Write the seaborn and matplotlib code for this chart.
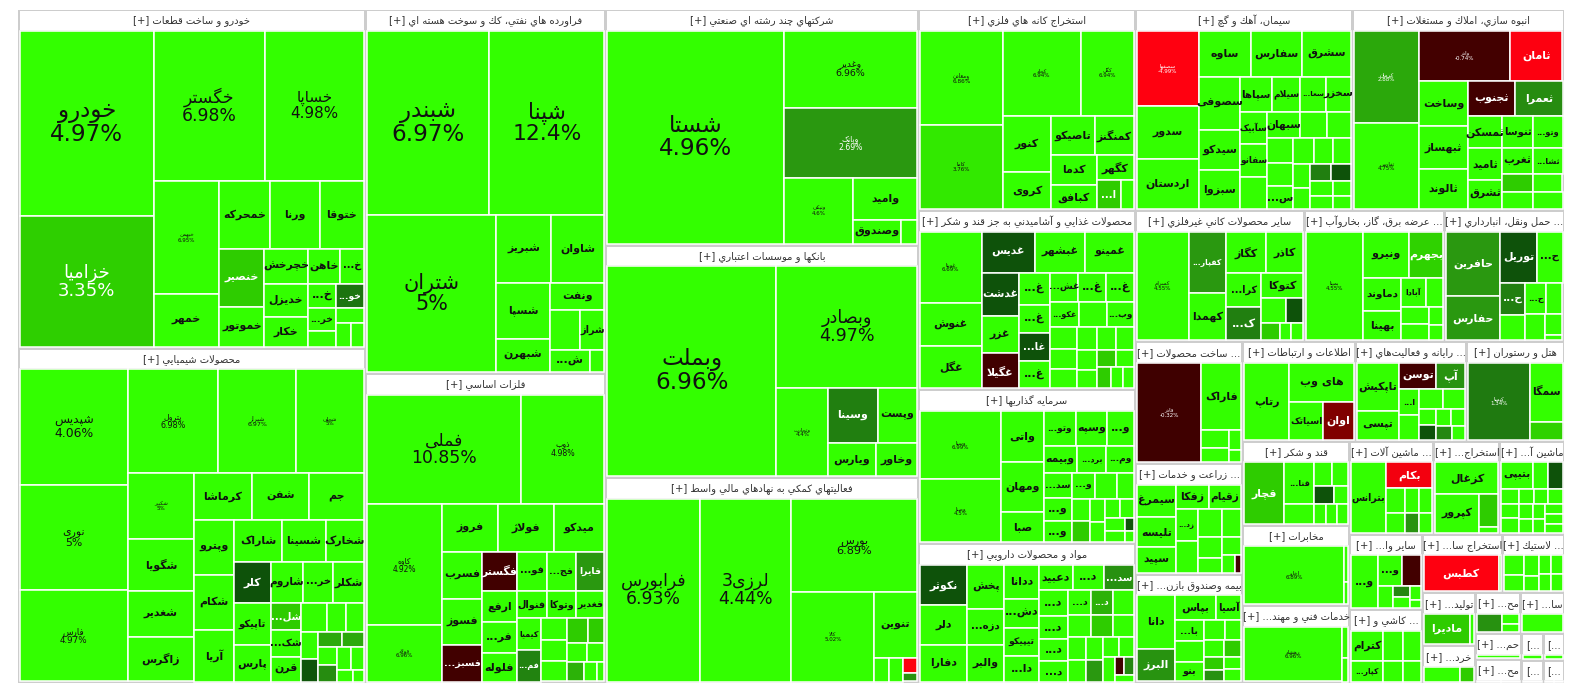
import re
import numpy as np
import seaborn as sns
import matplotlib
matplotlib.use("Agg")
import matplotlib.pyplot as plt
from matplotlib.patches import Rectangle

# ---------------------------------------------------------------------------
# data: (symbol, change %, size) per sector
s01 = [("خودرو", 4.97, 24790), ("خزامیا", 3.35, 17420), ("خگستر", 6.98, 16650), ("خساپا", 4.98, 14850),
       ("خبهمن", 6.95, 7345), ("خمهر", 5, 3430), ("خمحرکه", 5, 3380), ("ورنا", 5, 3350), ("ختوقا", 5, 2948),
       ("خنصیر", 3.3, 2610), ("خموتور", 5, 1800), ("خچرخش", 5, 1505), ("خدیزل", 5, 1419), ("خکار", 5, 1290),
       ("خاهن", 5, 1155), ("خ...", 5, 840), ("خ...", 5, 690), ("خو...", 1.2, 675), ("خر...", 5, 621),
       ("", 5, 450), ("", 5, 405), ("", 5, 375), ("", 5, 300)]
s02 = [("شپدیس", 4.06, 12528), ("نوری", 5, 11340), ("فارس", 4.97, 9828), ("پترول", 6.98, 9300),
       ("شیراز", 6.97, 8100), ("شجلی", 5, 7000), ("شکبیر", 5, 4290), ("شگویا", 5, 3380), ("شغدیر", 5, 2990),
       ("زاگرس", 5, 2925), ("کرماشا", 5, 2668), ("شفن", 5, 2622), ("جم", 5, 2530), ("وپترو", 5, 2200),
       ("شکام", 5, 2200), ("آریا", 5, 2080), ("شاراک", 5, 2016), ("شسینا", 5, 1806), ("شخارک", 5, 1596),
       ("کلر", 0.3, 1517), ("تاپیکو", 5, 1512), ("پارس", 5, 1344), ("شاروم", 5, 1332), ("خر...", 5, 1260),
       ("شکلر", 5, 1260), ("شل...", 3.3, 810), ("شک...", 5, 810), ("قرن", 5, 750), ("", 5, 735), ("", 5, 546),
       ("", 5, 506), ("", 5, 460), ("", 0.4, 391), ("", 2.9, 360), ("", 2.9, 340), ("", 5, 324),
       ("", 2.2, 315), ("", 5, 312), ("", 5, 306), ("", 5, 189), ("", 5, 120)]
s03 = [("شبندر", 6.97, 22143), ("شپنا", 12.4, 20862), ("شتران", 5, 19840), ("شبریز", 5, 3618),
       ("شاوان", 5, 3551), ("شسپا", 5, 2915), ("شبهرن", 5, 1749), ("ونفت", 5, 1458), ("", 5, 1178),
       ("شراز", 5, 920), ("ش...", 5, 874), ("", 5, 322)]
s04 = [("فملی", 10.85, 16568), ("ذوب", 4.98, 9047), ("کاوه", 4.92, 8880), ("فولاد", 6.96, 4144),
       ("فروز", 5, 2632), ("فولاژ", 5, 2585), ("میدکو", 5, 2350), ("فسرب", 5, 1880), ("فسوز", 5, 1840),
       ("فسبز...", -0.5, 1440), ("فگستر", -0.5, 1330), ("فو...", 5, 1155), ("فج...", 5, 1102),
       ("فایرا", 2.7, 1102), ("ارفع", 5, 1064), ("فر...", 5, 1056), ("فلوله", 5, 952), ("فنوال", 5, 816),
       ("وتوکا", 5, 792), ("فغدیر", 5, 782), ("کیمیا", 5, 756), ("فم...", 1.8, 756), ("", 5, 567),
       ("", 5, 544), ("", 5, 540), ("", 3.3, 500), ("", 3.3, 400), ("", 5, 351), ("", 5, 320),
       ("", 3.0, 320), ("", 5, 260), ("", 5, 144)]
s05 = [("شستا", 4.96, 38000), ("وغدیر", 6.96, 10400), ("وبانک", 2.69, 9240), ("ونیکی", 4.6, 4600),
       ("وامید", 5, 2730), ("وصندوق", 5, 1127), ("", 5, 368)]
s06 = [("وبملت", 6.96, 35358), ("وبصادر", 4.97, 16988), ("وتجارت", 4.4, 4600), ("وسینا", 1.6, 2695),
       ("وپست", 5, 2145), ("ویارس", 5, 1598), ("وخاور", 5, 1394)]
s07 = [("فرابورس", 6.93, 15390), ("لرزی3", 4.44, 15300), ("بورس", 6.89, 10701), ("کالا", 5.02, 6720),
       ("تنوین", 5, 2580), ("", 5, 320), ("", 5, 300), ("", -4.9, 184), ("", 2.5, 100)]
s08 = [("ومعادن", 6.86, 7896), ("کاما", 3.76, 6972), ("کچاد", 6.94, 6715), ("کگل", 6.94, 4590),
       ("کنور", 5, 2695), ("کروی", 5, 1813), ("تاصیکو", 5, 1672), ("کمنگنز", 5, 1520), ("کدما", 5, 1408),
       ("کبافق", 5, 1080), ("کگهر", 5, 968), ("ا...", 3.3, 702), ("", 5, 378)]
s09 = [("سصفها", -4.99, 4725), ("سدور", 5.1, 3276), ("اردستان", 5, 3150), ("ساوه", 5, 2450),
       ("سفارس", 5, 2400), ("سشرق", 5, 2300), ("سصوفی", 5, 2250), ("سیدکو", 5, 1700), ("سبزوا", 5, 1650),
       ("سپاها", 5, 1134), ("سیلام", 5, 999), ("سعا...", 5, 924), ("سخزر", 5, 891), ("سآبیک", 5, 891),
       ("سفانو", 5, 891), ("", 5, 891), ("سبهان", 5, 858), ("", 5, 700), ("", 5, 650), ("", 5, 648),
       ("", 5, 600), ("س...", 5, 594), ("", 5, 560), ("", 5, 520), ("", 5, 480), ("", 5, 420),
       ("", 5, 380), ("", 1.6, 360), ("", 0.3, 340), ("", 5, 340), ("", 5, 300), ("", 5, 280), ("", 5, 250)]
s10 = [("کرمان", 2.88, 6072), ("ثفارس", 4.75, 5610), ("واذر", -0.74, 4600), ("ثامان", -4.9, 2650),
       ("وساخت", 5, 2205), ("ثبهساز", 5, 2058), ("ثالوند", 5, 1960), ("ثجنوب", -0.6, 1680),
       ("ثعمرا", 2.2, 1680), ("ثمسکن", 5, 1120), ("ثامید", 5, 1085), ("ثشرق", 5, 1015), ("ثنوسا", 5, 992),
       ("وتو...", 5, 960), ("ثغرب", 5, 775), ("ثشا...", 5, 750), ("", 3.3, 558), ("", 5, 540),
       ("", 5, 527), ("", 5, 510)]
s11 = [("غویتا", 6.69, 4464), ("غنوش", 5, 2666), ("غگل", 5, 2604), ("غدیس", 0.3, 2226), ("غبشهر", 5, 2100),
       ("غمینو", 5, 2058), ("غدشت", 0.3, 1591), ("غزر", 5, 1369), ("غگیلا", -0.5, 1295), ("غ...", 5, 980),
       ("غ...", 5, 875), ("غا...", 0.3, 875), ("غ...", 5, 860), ("غش...", 5, 820), ("غ...", 5, 800),
       ("غ...", 5, 780), ("غکو...", 5, 740), ("", 5, 700), ("وب...", 5, 680), ("", 5, 600), ("", 5, 560),
       ("", 5, 520), ("", 5, 480), ("", 5, 450), ("", 5, 420), ("", 5, 400), ("", 5, 380), ("", 3.3, 300),
       ("", 5, 300), ("", 3.3, 280), ("", 5, 260), ("", 5, 240)]
s12 = [("وسنا", 6.99, 5304), ("وصنا", 4.5, 4914), ("واتی", 5, 2091), ("ومهان", 5, 2009), ("صبا", 5, 1230),
       ("وتو...", 5, 1089), ("وسپه", 5, 1056), ("و...", 5, 891), ("وبیمه", 5, 850), ("برد...", 5, 750),
       ("وم...", 5, 702), ("سد...", 5, 700), ("و...", 5, 621), ("و...", 5, 598), ("و...", 5, 572),
       ("", 5, 546), ("", 5, 414), ("", 5, 368), ("", 3.3, 360), ("", 5, 330), ("", 5, 300), ("", 5, 280),
       ("", 5, 260), ("", 5, 240), ("", 5, 220), ("", 0.4, 110), ("", 5, 100)]
s13 = [("نکوثر", 0.3, 1720), ("دلر", 5, 1677), ("دفارا", 5, 1548), ("پخش", 5, 1462), ("دزه...", 5, 1224),
       ("والبر", 5, 1224), ("ددانا", 5, 1056), ("دش...", 5, 896), ("تیپیکو", 5, 896), ("دا...", 5, 784),
       ("دعبید", 5, 768), ("د...", 5, 700), ("سد...", 2.4, 672), ("د...", 5, 672), ("د...", 5, 616),
       ("د...", 5, 560), ("د...", 5, 540), ("د...", 5, 528), ("د...", 3.0, 506), ("", 5, 480), ("", 5, 450),
       ("", 3.3, 420), ("", 5, 400), ("", 5, 380), ("", 5, 360), ("", 5, 340), ("", 2.7, 320), ("", 5, 300),
       ("", 5, 280), ("", 5, 260), ("", -0.5, 150), ("", 2.0, 150), ("", 5, 120)]
s14 = [("کسرام", 4.55, 4845), ("کفپار...", 2.7, 1961), ("کهمدا", 5, 1517), ("کگاز", 5, 1435),
       ("کاذر", 5, 1330), ("کرا...", 5, 1023), ("ک...", 1.6, 1015), ("کتوکا", 5, 891), ("", 5, 525),
       ("", 0.3, 345), ("", 3.3, 276), ("", 5, 176), ("", 5, 176)]
s15 = [("بمپنا", 4.55, 5415), ("ونیرو", 5, 1840), ("بجهرم", 3.4, 1400), ("دماوند", 5, 1064),
       ("بهینا", 5, 988), ("آبادا", 5, 600), ("", 5, 432), ("", 5, 406), ("", 5, 400), ("", 5, 224),
       ("", 5, 200)]
s16 = [("حافرین", 2.7, 2968), ("حفارس", 2.7, 2014), ("توریل", 0.3, 1628), ("ح...", 5, 1100),
       ("ح...", 1.6, 700), ("", 5, 560), ("ح...", 5, 550), ("", 5, 448), ("", 5, 440), ("", 5, 304),
       ("", 5, 80)]
s17 = [("فاذر", -0.32, 6732), ("فاراک", 5, 2850), ("", 5, 520), ("", 5, 400), ("", 5, 260), ("", 5, 156)]
s18 = [("سیمرغ", 5, 1216), ("تلیسه", 5, 1140), ("سپید", 5, 988), ("زفکا", 5, 800), ("زقیام", 5, 775),
       ("زد...", 5, 672), ("", 5, 672), ("", 5, 651), ("", 5, 532), ("", 5, 480), ("", 5, 360),
       ("", 5, 323), ("", 5, 228), ("", -0.8, 108)]
s19 = [("دانا", 5, 1980), ("البرز", 2.5, 1224), ("بپاس", 5, 984), ("آسیا", 5, 600), ("با...", 5, 600),
       ("", 5, 588), ("بنو", 5, 552), ("", 5, 425), ("", 5, 336), ("", 5, 325), ("", 3.3, 272),
       ("", 3.3, 272), ("", 2.4, 221), ("", 5, 208), ("", 5, 204)]
s20 = [("رتاپ", 4.8, 3555), ("های وب", 5, 2574), ("اسیاتک", 5, 1326), ("اوان", -1.5, 1209)]
s21 = [("تاپکیش", 5, 2205), ("تپسی", 5, 1305), ("توسن", -0.6, 1050), ("آپ", 2.5, 810), ("ا...", 5, 560),
       ("", 5, 520), ("", 5, 500), ("", 5, 470), ("", 5, 300), ("", 0.3, 272), ("", 5, 260),
       ("", 5, 250), ("", 2.0, 230), ("", 5, 200)]
s22 = [("کیسا", 1.34, 4898), ("سمگا", 5, 1947), ("", 3.4, 594)]
s23 = [("قچار", 3.3, 2520), ("قنا...", 5, 1269), ("", 5, 592), ("", 5, 432), ("", 5, 380),
       ("", 0.3, 360), ("", 5, 260), ("", 5, 240), ("", 5, 240), ("", 5, 230)]
s24 = [("اخابر", 6.89, 6100), ("", 5, 150), ("", 5, 94)]
s25 = [("رهشاد", 6.96, 5800), ("", 5, 200), ("", 5, 148)]
s26 = [("بترانس", 5, 2592), ("بکام", -4.5, 1260), ("", 5, 483), ("", 5, 399), ("", 5, 368),
       ("", 5, 336), ("", 2.5, 299), ("", 5, 280)]
s27 = [("کزغال", 5, 2048), ("کپرور", 5, 1716), ("", 3.3, 640), ("", 5, 120)]
s28 = [("بتیپی", 5, 966), ("", 5, 460), ("", 0.3, 437), ("", 5, 300), ("", 5, 290), ("", 5, 285),
       ("", 5, 270), ("", 5, 260), ("", 5, 250), ("", 5, 240), ("", 5, 230), ("", 5, 220), ("", 5, 210),
       ("", 5, 200), ("", 5, 190), ("", 5, 180)]
s29 = [("و...", 5, 1456), ("و...", 5, 792), ("", -0.6, 594), ("", 5, 352), ("", 2.0, 204), ("", 5, 190),
       ("", 5, 170), ("", 5, 96)]
s30 = [("کطبس", -4.97, 2923), ("", 5, 100)]
s31 = [("", 5, 364), ("", 5, 300), ("", 5, 280), ("", 5, 208), ("", 5, 200), ("", 5, 195), ("", 5, 190),
       ("", 5, 180)]
s32 = [("کترام", 5, 992), ("کپار...", 5, 682), ("", 5, 608), ("", 5, 544), ("", 5, 418), ("", 5, 374)]
s33 = [("مادیرا", 3.3, 1568), ("", 5, 150)]
s34 = [("", 5, 630), ("", 3.3, 234)]
s35 = [("", 2.4, 500), ("", 5, 204), ("", 5, 150)]
s36 = [("", 5, 880)]
s37 = [("", 5, 300)]
s38 = [("", 5, 100)]
s39 = [("", 2.4, 100)]
s40 = [("", -4.9, 100), ("", 5, 80)]
s41 = [("", 5, 100)]
s42 = [("", -4.9, 60), ("", 5, 60)]

sector_names = [
    "خودرو و ساخت قطعات", "محصولات شيميايي", "فراورده هاي نفتي، كك و سوخت هسته اي", "فلزات اساسي",
    "شركتهاي چند رشته اي صنعتي", "بانكها و موسسات اعتباري", "فعاليتهاي كمكي به نهادهاي مالي واسط",
    "استخراج كانه هاي فلزي", "سيمان، آهك و گچ", "انبوه سازي، املاك و مستغلات",
    "محصولات غذايي و آشاميدني به جز قند و شكر", "سرمايه گذاريها", "مواد و محصولات دارويي",
    "ساير محصولات كاني غيرفلزي", "... عرضه برق، گاز، بخاروآب", "... حمل ونقل، انبارداري",
    "... ساخت محصولات", "... زراعت و خدمات", "بيمه وصندوق بازن...", "اطلاعات و ارتباطات",
    "... رايانه و فعاليت‌هاي", "هتل و رستوران", "قند و شكر", "مخابرات", "خدمات فني و مهند...",
    "... ماشين آلات", "استخراج...", "ماشين آ...", "ساير وا...", "استخراج سا...", "... لاستيك",
    "... كاشي و", "توليد...", "خرد...", "مح...", "سا...", "حم...", "[...", "[...", "مح...", "[...", "[..."]
sector_weights = [117600, 116200, 87440, 74320, 73590, 72660, 64000, 43620, 43610, 42420, 38870, 33410,
                  30140, 22210, 18420, 15670, 13038, 11872, 11660, 11187, 10989, 9702, 9010, 8586, 8268,
                  7812, 6138, 5952, 5467, 4698, 3596, 5325, 2808, 1976, 1840, 1760, 1196, 598, 520, 1058,
                  529, 460]
sector_stocks = [s01, s02, s03, s04, s05, s06, s07, s08, s09, s10, s11, s12, s13, s14, s15, s16, s17, s18,
                 s19, s20, s21, s22, s23, s24, s25, s26, s27, s28, s29, s30, s31, s32, s33, s34, s35, s36,
                 s37, s38, s39, s40, s41, s42]

# ---------------------------------------------------------------------------
# persian shaping (matplotlib has no arabic shaping / bidi)
FORMS = {"ء": (0xFE80, 1), "آ": (0xFE81, 2), "أ": (0xFE83, 2), "ؤ": (0xFE85, 2), "إ": (0xFE87, 2),
         "ئ": (0xFE89, 4), "ا": (0xFE8D, 2), "ب": (0xFE8F, 4), "ة": (0xFE93, 2), "ت": (0xFE95, 4),
         "ث": (0xFE99, 4), "ج": (0xFE9D, 4), "ح": (0xFEA1, 4), "خ": (0xFEA5, 4), "د": (0xFEA9, 2),
         "ذ": (0xFEAB, 2), "ر": (0xFEAD, 2), "ز": (0xFEAF, 2), "س": (0xFEB1, 4), "ش": (0xFEB5, 4),
         "ص": (0xFEB9, 4), "ض": (0xFEBD, 4), "ط": (0xFEC1, 4), "ظ": (0xFEC5, 4), "ع": (0xFEC9, 4),
         "غ": (0xFECD, 4), "ف": (0xFED1, 4), "ق": (0xFED5, 4), "ك": (0xFED9, 4), "ل": (0xFEDD, 4),
         "م": (0xFEE1, 4), "ن": (0xFEE5, 4), "ه": (0xFEE9, 4), "و": (0xFEED, 2), "ى": (0xFEEF, 2),
         "ي": (0xFEF1, 4), "پ": (0xFB56, 4), "چ": (0xFB7A, 4), "ژ": (0xFB8A, 2), "ک": (0xFB8E, 4),
         "گ": (0xFB92, 4), "ی": (0xFBFC, 4)}
LAM_ALEF = {"ا": 0xFEFB, "آ": 0xFEF5, "أ": 0xFEF7, "إ": 0xFEF9}


def shape(word):
    out = []
    i = 0
    while i < len(word):
        c = word[i]
        if c not in FORMS:
            if c != "\u200c":
                out.append(c)
            i += 1
            continue
        prev = word[i - 1] if i > 0 else None
        join_prev = prev in FORMS and FORMS[prev][1] == 4
        if c == "ل" and i + 1 < len(word) and word[i + 1] in LAM_ALEF:
            out.append(chr(LAM_ALEF[word[i + 1]] + (1 if join_prev else 0)))
            i += 2
            continue
        nxt = word[i + 1] if i + 1 < len(word) else None
        base, nf = FORMS[c]
        join_next = nf == 4 and nxt in FORMS
        if nf == 1:
            form = base
        elif join_prev and join_next:
            form = base + 3
        elif join_prev:
            form = base + 1
        elif join_next:
            form = base + 2
        else:
            form = base
        out.append(chr(form))
        i += 1
    return "".join(out)


def fa(text):
    # split into ltr runs (numbers, %, dots) and rtl runs, then reverse for display
    runs = re.findall(r"[0-9A-Za-z.%+\-\[\]]+|[^0-9A-Za-z.%+\-\[\]]+", text)
    vis = [r if re.match(r"[0-9A-Za-z.%+\-\[\]]", r) else shape(r)[::-1] for r in runs]
    return "".join(vis[::-1])


# ---------------------------------------------------------------------------
# squarified treemap
def layout(sizes, x, y, dx, dy):
    covered = sum(sizes)
    rects = []
    if dx >= dy:
        w = covered / dy
        for s in sizes:
            rects.append((x, y, w, s / w))
            y += s / w
    else:
        h = covered / dx
        for s in sizes:
            rects.append((x, y, s / h, h))
            x += s / h
    return rects


def leftover(sizes, x, y, dx, dy):
    covered = sum(sizes)
    if dx >= dy:
        w = covered / dy
        return x + w, y, dx - w, dy
    h = covered / dx
    return x, y + h, dx, dy - h


def worst(sizes, x, y, dx, dy):
    return max(max(r[2] / r[3], r[3] / r[2]) for r in layout(sizes, x, y, dx, dy))


def squarify(sizes, x, y, dx, dy):
    if not sizes:
        return []
    if len(sizes) == 1:
        return layout(sizes, x, y, dx, dy)
    i = 1
    while i < len(sizes) and worst(sizes[:i], x, y, dx, dy) >= worst(sizes[:i + 1], x, y, dx, dy):
        i += 1
    rest = leftover(sizes[:i], x, y, dx, dy)
    return layout(sizes[:i], x, y, dx, dy) + squarify(sizes[i:], *rest)


def treemap(weights, x, y, dx, dy):
    order = np.argsort(-np.asarray(weights, dtype=float), kind="stable")
    w = np.asarray(weights, dtype=float)[order]
    w = w * dx * dy / w.sum()
    rects = squarify(list(w), x, y, dx, dy)
    out = [None] * len(weights)
    for k, idx in enumerate(order):
        out[idx] = rects[k]
    return out


# ---------------------------------------------------------------------------
# colours
pos_x = [0, 0.5, 1.34, 2.0, 2.7, 3.3, 3.8, 4.0]
pos_c = np.array([(10, 72, 10), (16, 88, 10), (31, 122, 16), (36, 135, 16), (42, 152, 16),
                  (46, 204, 0), (50, 236, 0), (51, 255, 0)]) / 255
neg_x = [0, 0.8, 1.5, 3.0, 5.0]
neg_c = np.array([(60, 0, 0), (68, 0, 0), (128, 0, 0), (205, 0, 12), (255, 0, 16)]) / 255


def pct_color(p):
    if p >= 0:
        return tuple(np.interp(p, pos_x, pos_c[:, k]) for k in range(3))
    return tuple(np.interp(-p, neg_x, neg_c[:, k]) for k in range(3))


# ---------------------------------------------------------------------------
sns.set_theme(style="white")
plt.rcParams["font.family"] = ["DejaVu Sans"]

W, H = 1584, 698
fig = plt.figure(figsize=(W / 100, H / 100), dpi=100)
ax = fig.add_axes([0, 0, 1, 1])
ax.set_xlim(0, W)
ax.set_ylim(H, 0)
ax.axis("off")

X0, Y0, DX, DY = 18, 9.5, 1546, 673.5
HEAD = 20
PX = 0.72  # points per pixel

sector_rects = treemap(sector_weights, X0, Y0, DX, DY)

for name, (sx, sy, sw, sh), stocks in zip(sector_names, sector_rects, sector_stocks):
    ax.add_patch(Rectangle((sx, sy), sw, sh, facecolor="#cdcdcd", edgecolor="none"))
    hp = ax.add_patch(Rectangle((sx + 1.5, sy + 1.5), sw - 3, HEAD - 1.5, facecolor="white",
                                edgecolor="none"))
    head = name if name.startswith("[") else "[+] " + fa(name)
    t = ax.text(sx + sw / 2, sy + 1 + HEAD / 2, head, ha="center", va="center", fontsize=7.2,
                color="#333333")
    t.set_clip_path(hp)

    tx, ty, tw, th = sx + 1.5, sy + HEAD + 1, sw - 3, sh - HEAD - 2.5
    names = [s[0] for s in stocks]
    pcts = [s[1] for s in stocks]
    sizes = [s[2] for s in stocks]
    for nm, p, (x, y, w, h) in zip(names, pcts, treemap(sizes, tx, ty, tw, th)):
        col = pct_color(p)
        ax.add_patch(Rectangle((x, y), w, h, facecolor=col, edgecolor="white", linewidth=1.1))
        if not nm:
            continue
        tc = "white" if col[1] < 0.85 else "#111111"
        s = np.sqrt(w * h)
        if s >= 64 and min(w, h) >= 40:
            fpx = float(np.clip(0.28 * (s - 68), 5.5, 23))
            ax.text(x + w / 2, y + h / 2, fa(nm) + "\n" + f"{p:g}%", ha="center", va="center",
                    fontsize=fpx * PX, color=tc, linespacing=1.0)
        else:
            fpx = min(11, w * 0.9 / (0.55 * len(nm)), h * 0.5)
            if fpx < 5:
                continue
            ax.text(x + w / 2, y + h / 2, fa(nm), ha="center", va="center",
                    fontsize=fpx * PX, color=tc, fontweight="bold")

fig.savefig("out.png", dpi=100, facecolor="white")
